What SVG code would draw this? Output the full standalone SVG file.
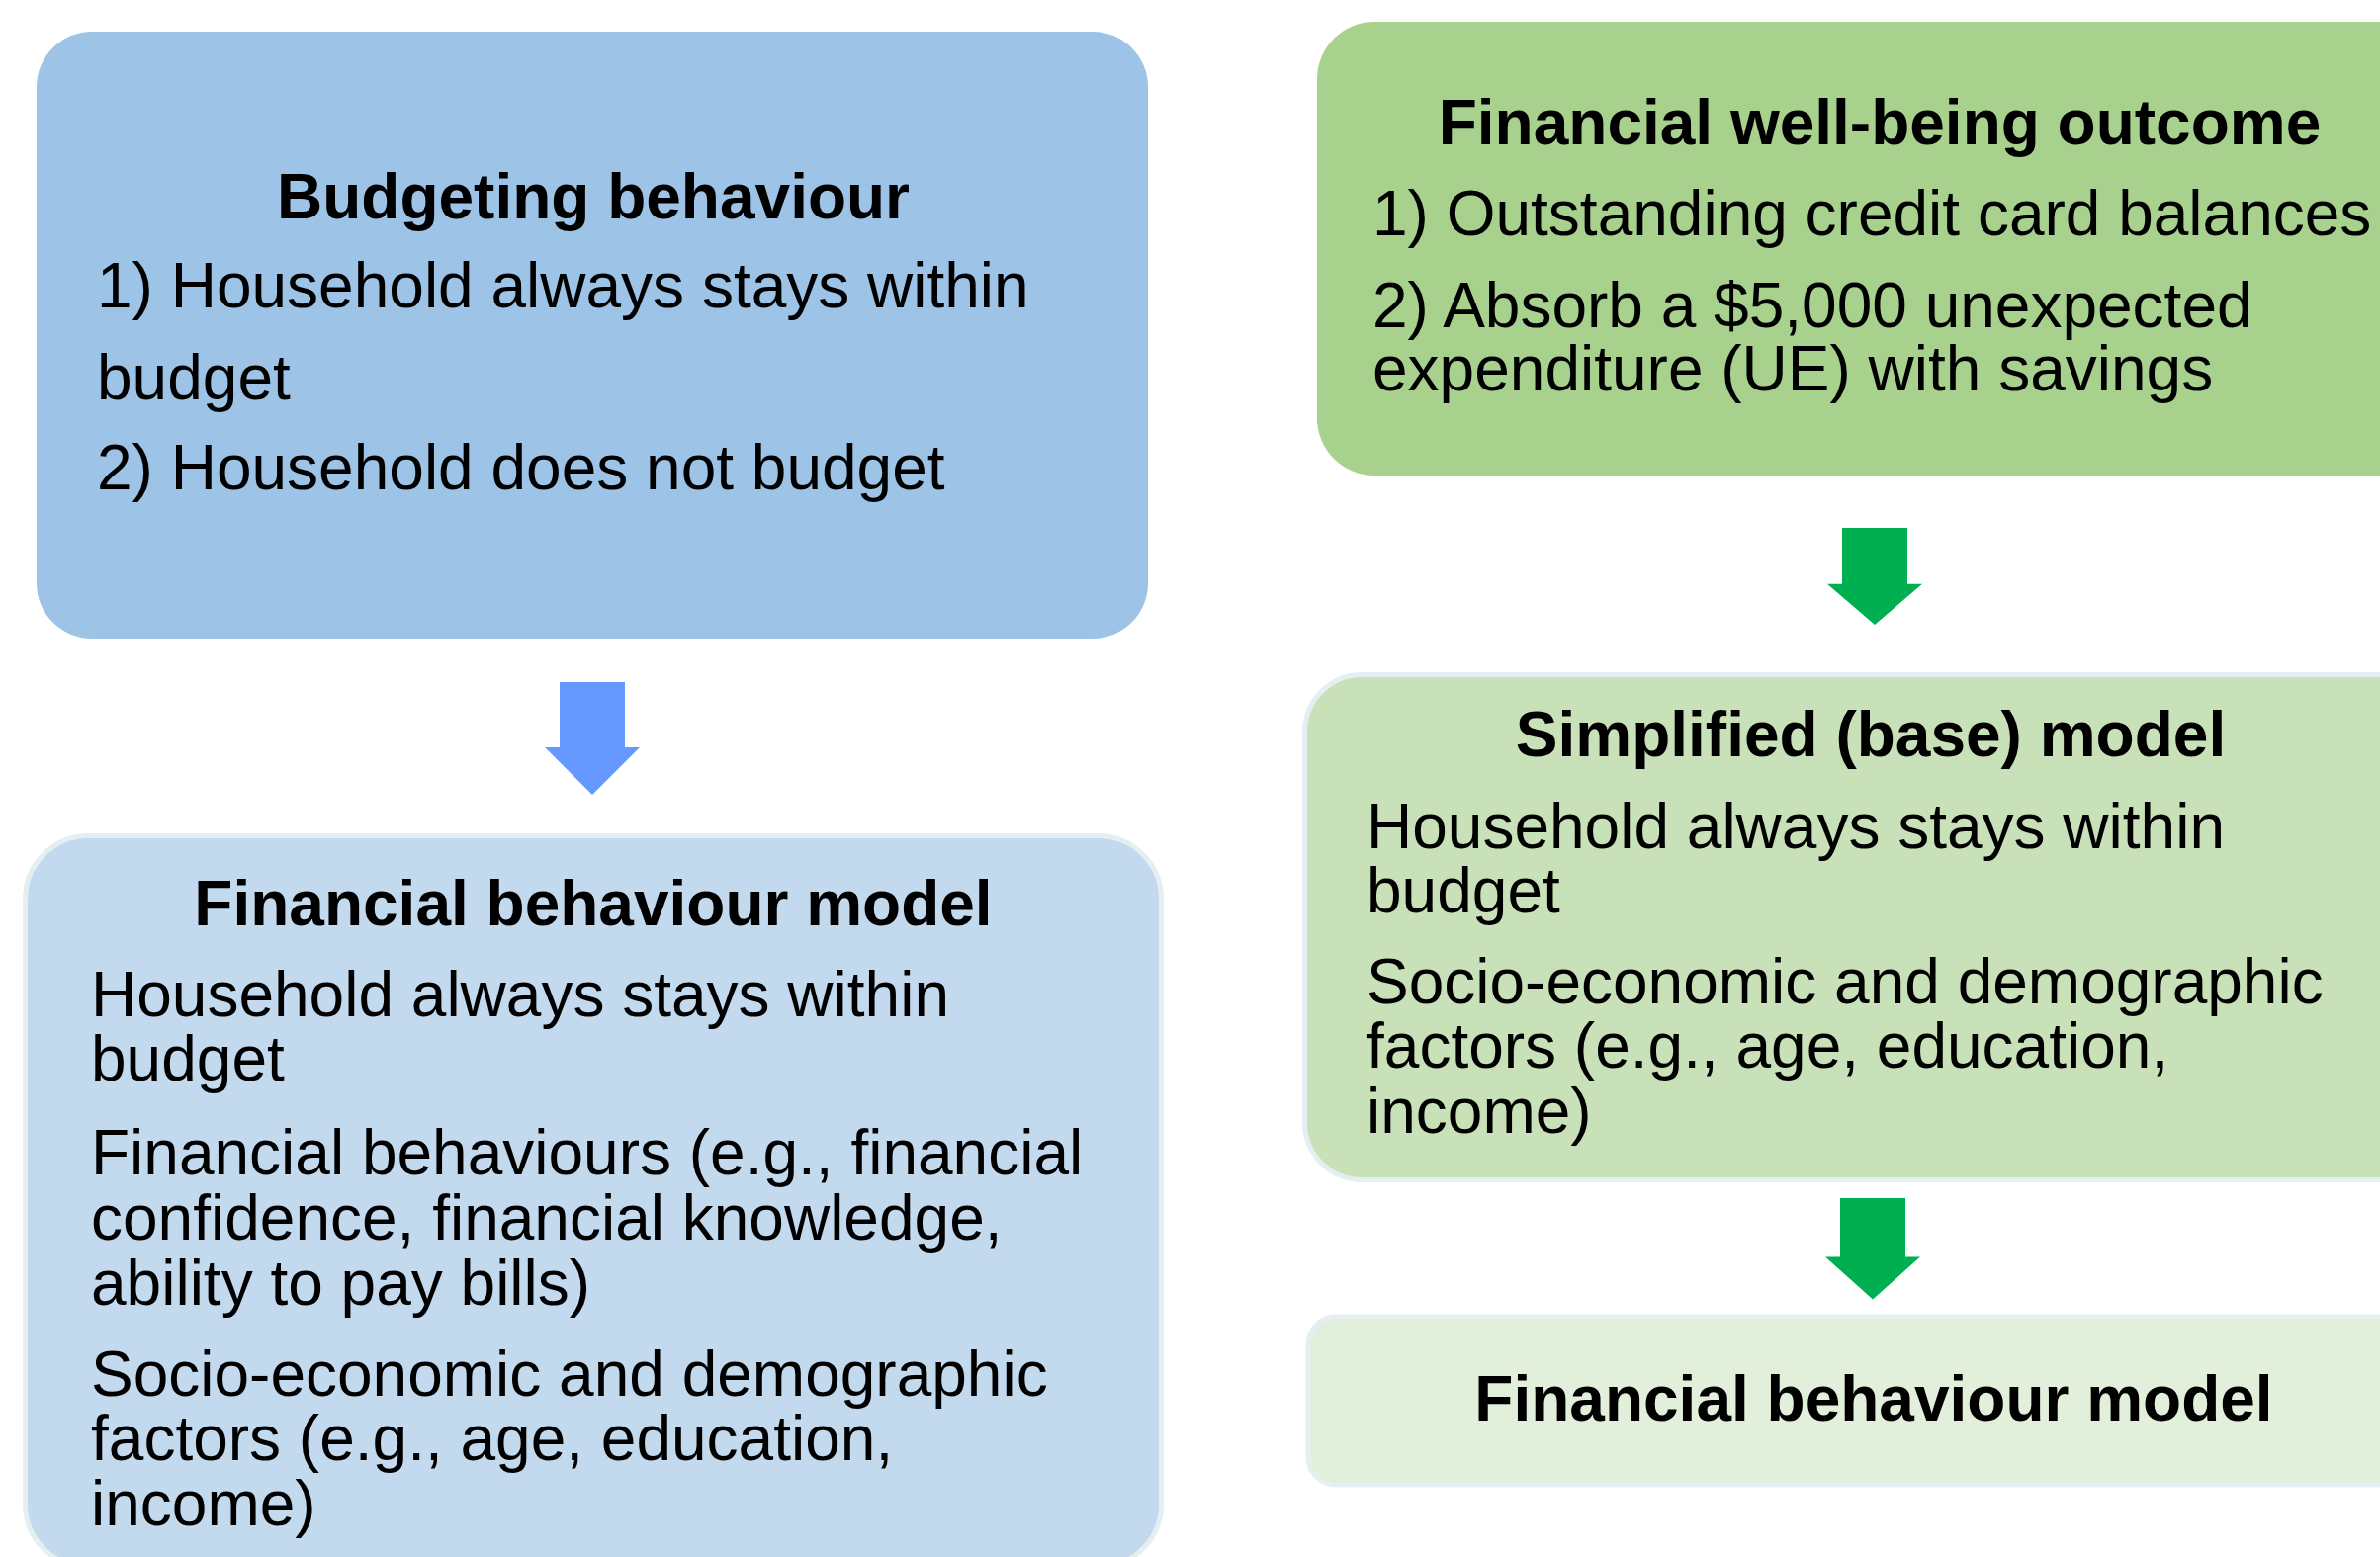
<svg xmlns="http://www.w3.org/2000/svg" width="2407" height="1575" viewBox="0 0 2407 1575">
<style>
text{font-family:"Liberation Sans",Arial,sans-serif;font-size:64px;fill:#000}
.t{font-weight:bold;text-anchor:middle}
.edge{stroke:#E3EFF1;stroke-width:5}
</style>
<defs>
<path id="arr" d="M-33,0 H33 V66 H48 L0,114 L-48,66 H-33 Z"/>
</defs>
<rect width="2407" height="1575" fill="#fff"/>
<g id="budgeting">
<rect x="37" y="32" width="1124" height="614" rx="56" fill="#9DC3E6"/>
<text class="t" x="600" y="221">Budgeting behaviour</text>
<text x="98" y="311">1) Household always stays within</text>
<text x="98" y="404">budget</text>
<text x="98" y="495">2) Household does not budget</text>
</g>
<g id="fbm-left">
<rect class="edge" x="25.5" y="845.5" width="1149" height="740" rx="64" fill="#C3DAEE"/>
<text class="t" x="600" y="936">Financial behaviour model</text>
<text x="92" y="1028">Household always stays within</text>
<text x="92" y="1093">budget</text>
<text x="92" y="1188">Financial behaviours (e.g., financial</text>
<text x="92" y="1254">confidence, financial knowledge,</text>
<text x="92" y="1320">ability to pay bills)</text>
<text x="92" y="1412">Socio-economic and demographic</text>
<text x="92" y="1477">factors (e.g., age, education,</text>
<text x="92" y="1543">income)</text>
</g>
<g id="wellbeing">
<rect x="1332" y="22" width="1138" height="459" rx="58" fill="#A9D18E"/>
<text class="t" x="1901" y="146">Financial well-being outcome</text>
<text x="1388" y="238">1) Outstanding credit card balances</text>
<text x="1388" y="331">2) Absorb a $5,000 unexpected</text>
<text x="1388" y="395">expenditure (UE) with savings</text>
</g>
<g id="simplified">
<rect class="edge" x="1319.5" y="682.5" width="1150" height="511" rx="58" fill="#C9E1B8"/>
<text class="t" x="1892" y="765">Simplified (base) model</text>
<text x="1382" y="858">Household always stays within</text>
<text x="1382" y="923">budget</text>
<text x="1382" y="1015">Socio-economic and demographic</text>
<text x="1382" y="1080">factors (e.g., age, education,</text>
<text x="1382" y="1146">income)</text>
</g>
<g id="fbm-right">
<rect class="edge" x="1323" y="1332" width="1150" height="170" rx="28" fill="#E2EFDA"/>
<text class="t" x="1895" y="1437">Financial behaviour model</text>
</g>
<g id="connectors">
<use href="#arr" transform="translate(599,690)" fill="#6699FF"/>
<use href="#arr" transform="translate(1896,534) scale(1,0.86)" fill="#00B050"/>
<use href="#arr" transform="translate(1894,1212) scale(1,0.9)" fill="#00B050"/>
</g>
</svg>
